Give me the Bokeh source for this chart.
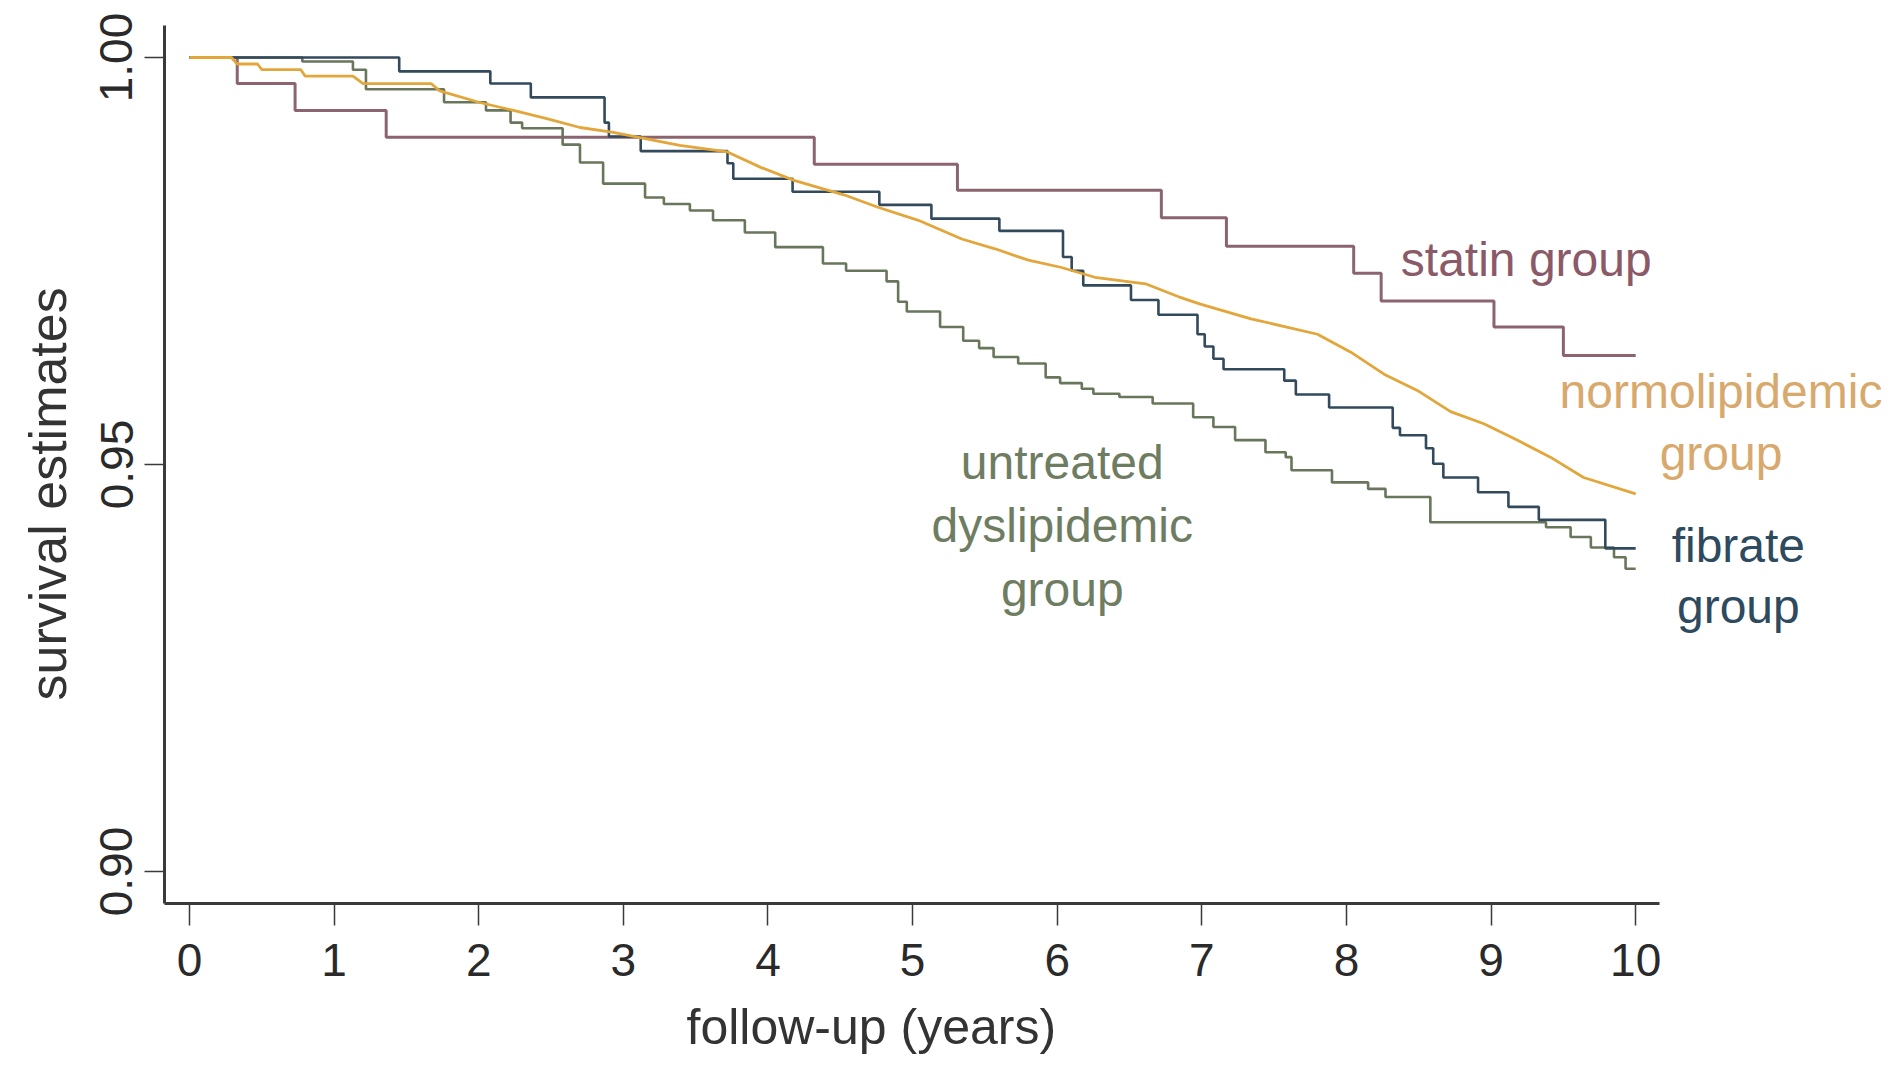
from bokeh.plotting import figure
from bokeh.models import Range1d, Label, FixedTicker, Title
from bokeh.embed import file_html
from bokeh.resources import INLINE

# ---- data ----
statin_t = [0, 0.33, 0.73, 1.36, 4.32, 5.31, 6.72, 7.17, 8.05, 8.24, 9.02, 9.50, 10.0]
statin_s = [1.0, 0.9968, 0.9935, 0.9902, 0.9869, 0.9837, 0.9803, 0.9768, 0.9735, 0.9701, 0.9669, 0.9634, 0.9634]

fibrate_t = [0, 1.45, 2.08, 2.36, 2.87, 2.90, 3.12, 3.72, 3.76, 4.17, 4.77, 5.13, 5.60, 6.04, 6.10,
             6.18, 6.51, 6.70, 6.97, 7.02, 7.08, 7.15, 7.57, 7.65, 7.88, 8.32, 8.37, 8.55, 8.60,
             8.67, 8.91, 9.12, 9.33, 9.79, 10.0]
fibrate_s = [1.0, 0.9983, 0.9968, 0.9951, 0.9920, 0.9903, 0.9885, 0.9870, 0.9851, 0.9835, 0.9819,
             0.9802, 0.9787, 0.9755, 0.9738, 0.9720, 0.9702, 0.9684, 0.9660, 0.9645, 0.9630, 0.9617,
             0.9603, 0.9586, 0.9570, 0.9545, 0.9536, 0.9520, 0.9501, 0.9484, 0.9466, 0.9448, 0.9432,
             0.9397, 0.9397]

untreated_t = [0, 0.78, 1.13, 1.22, 1.76, 2.05, 2.22, 2.30, 2.58, 2.70, 2.86, 3.15, 3.28, 3.46, 3.62,
               3.84, 4.05, 4.38, 4.54, 4.82, 4.90, 4.96, 5.19, 5.35, 5.46, 5.56, 5.73, 5.92, 6.02,
               6.17, 6.25, 6.43, 6.66, 6.94, 7.08, 7.23, 7.44, 7.58, 7.62, 7.90, 8.15, 8.27, 8.58,
               9.38, 9.55, 9.69, 9.85, 9.93, 10.0]
untreated_s = [1.0, 0.9995, 0.9985, 0.9961, 0.9945, 0.9935, 0.9920, 0.9913, 0.9893, 0.9871, 0.9845,
               0.9828, 0.9820, 0.9812, 0.9800, 0.9785, 0.9767, 0.9747, 0.9738, 0.9725, 0.9700,
               0.9688, 0.9669, 0.9652, 0.9643, 0.9632, 0.9624, 0.9607, 0.9600, 0.9593, 0.9587,
               0.9583, 0.9575, 0.9558, 0.9546, 0.9530, 0.9515, 0.9509, 0.9493, 0.9478, 0.9470,
               0.9460, 0.9429, 0.9423, 0.9411, 0.9398, 0.9386, 0.9372, 0.9372]

normo_t = [0, 0.29, 0.33, 0.47, 0.50, 0.77, 0.80, 1.13, 1.20, 1.67, 1.73, 2.00, 2.24, 2.47, 2.70,
           2.93, 3.16, 3.39, 3.72, 3.95, 4.18, 4.53, 4.76, 5.04, 5.34, 5.57, 5.80, 6.03,
           6.26, 6.61, 6.84, 6.99, 7.34, 7.80, 8.03, 8.26, 8.49, 8.72, 8.95, 9.18,
           9.41, 9.64, 10.0]
normo_s = [1.0, 1.0, 0.9992, 0.9992, 0.9985, 0.9985, 0.9977, 0.9977, 0.9968, 0.9968, 0.9959,
           0.9945, 0.9935, 0.9925, 0.9914, 0.9908, 0.9900, 0.9892, 0.9884, 0.9865, 0.9849,
           0.9831, 0.9816, 0.9800, 0.9777, 0.9765, 0.9751, 0.9742, 0.9730, 0.9722,
           0.9706, 0.9697, 0.9679, 0.9660, 0.9638, 0.9611, 0.9591, 0.9565,
           0.9550, 0.9530, 0.9509, 0.9484, 0.9464]

x_ticks = [0, 1, 2, 3, 4, 5, 6, 7, 8, 9, 10]
y_ticks = [0.90, 0.95, 1.00]

label_texts = ["statin group", "normolipidemic", "group", "fibrate", "group",
               "untreated", "dyslipidemic", "group"]
label_x = [8.376, 10.59, 10.59, 10.71, 10.71, 6.035, 6.035, 6.035]
label_y = [0.9752, 0.9590, 0.9513, 0.9400, 0.9326, 0.9502, 0.9425, 0.9346]
label_align = ["left", "center", "center", "center", "center", "center", "center", "center"]
label_group = ["statin", "normo", "normo", "fibrate", "fibrate", "untreated", "untreated", "untreated"]

line_colors = {"statin": "#8c6470", "fibrate": "#324a5c", "normo": "#e2a63a", "untreated": "#68765c"}
text_colors = {"statin": "#8a5a68", "fibrate": "#2e4a5e", "normo": "#d8a96c", "untreated": "#6e7d62"}

FONT = "Liberation Sans"

p = figure(width=1890, height=1072, output_backend="svg", toolbar_location=None,
           x_range=Range1d(-0.173, 11.762), y_range=Range1d(0.89607, 1.00393),
           min_border_left=163, min_border_top=25, min_border_right=0, min_border_bottom=169,
           background_fill_color="white", border_fill_color="white")
p.outline_line_color = None
p.xgrid.visible = False
p.ygrid.visible = False

p.step(statin_t, statin_s, mode="after", line_color=line_colors["statin"], line_width=3)
p.step(untreated_t, untreated_s, mode="after", line_color=line_colors["untreated"], line_width=2.6)
p.step(fibrate_t, fibrate_s, mode="after", line_color=line_colors["fibrate"], line_width=2.6)
p.line(normo_t, normo_s, line_color=line_colors["normo"], line_width=2.8)

for txt, lx, ly, al, g in zip(label_texts, label_x, label_y, label_align, label_group):
    p.add_layout(Label(x=lx, y=ly, text=txt, text_align=al, text_baseline="alphabetic",
                       text_font=FONT, text_font_size="48px", text_color=text_colors[g]))

# axes
for ax in (p.xaxis[0], p.yaxis[0]):
    ax.axis_line_width = 3
    ax.axis_line_color = "#3a3a3a"
    ax.major_tick_line_color = "#3a3a3a"
    ax.major_tick_line_width = 1.5
    ax.major_tick_in = 0
    ax.minor_tick_line_color = None
    ax.major_label_text_font = FONT
    ax.major_label_text_color = "#2a2a2a"

p.xaxis.bounds = (-0.173, 10.166)
p.xaxis.ticker = FixedTicker(ticks=x_ticks)
p.xaxis.major_tick_out = 22
p.xaxis.major_label_standoff = 18
p.xaxis.major_label_text_font_size = "46px"

p.yaxis.ticker = FixedTicker(ticks=y_ticks)
p.yaxis.major_label_overrides = {t: f"{t:.2f}" for t in y_ticks}
p.yaxis.major_tick_out = 20
p.yaxis.major_label_standoff = 12
p.yaxis.major_label_orientation = "vertical"
p.yaxis.major_label_text_font_size = "46px"

xt = Title(text="follow-up (years)", align="left", offset=522, standoff=36,
           text_font=FONT, text_font_size="50px", text_font_style="normal", text_color="#333333")
p.add_layout(xt, "below")
yt = Title(text="survival estimates", align="left", offset=203, standoff=37, vertical_align="top",
           text_font=FONT, text_font_size="52px", text_font_style="normal", text_color="#333333")
p.add_layout(yt, "left")

open("out.html", "w").write(file_html(p, INLINE))
